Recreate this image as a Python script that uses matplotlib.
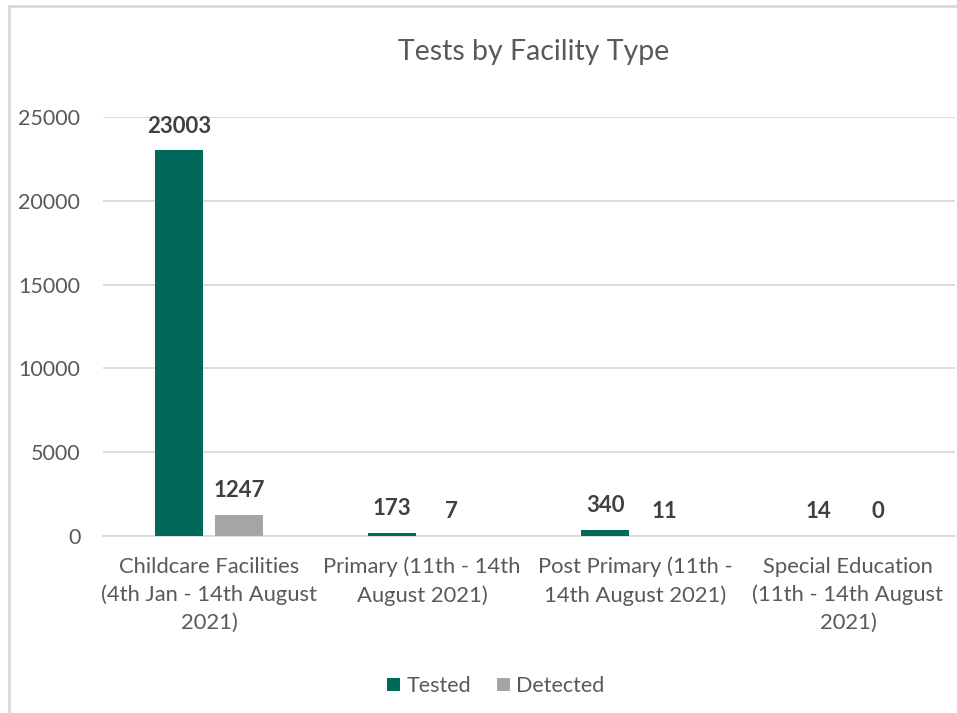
import numpy as np
import matplotlib.pyplot as plt
from matplotlib.patches import Rectangle

plt.rcParams['font.family'] = ['Lato', 'DejaVu Sans']

categories = ["Childcare Facilities\n(4th Jan - 14th August\n2021)",
              "Primary (11th - 14th\nAugust 2021)",
              "Post Primary (11th -\n14th August 2021)",
              "Special Education\n(11th - 14th August\n2021)"]
tested = [23003, 173, 340, 14]
detected = [1247, 7, 11, 0]
yticks = [0, 5000, 10000, 15000, 20000, 25000]

green = '#00695A'
grey = '#A5A5A5'
W, H = 957, 713

fig = plt.figure(figsize=(W / 100, H / 100), dpi=100)
ax = fig.add_axes([102.5 / W, 1 - 536 / H, 852 / W, 419 / H])

x = np.arange(len(categories))
bw = 0.225
off = 0.14
b1 = ax.bar(x - off, tested, bw, color=green, label='Tested', zorder=3)
b2 = ax.bar(x + off, detected, bw, color=grey, label='Detected', zorder=3)

# value labels above each bar
for bars, vals in ((b1, tested), (b2, detected)):
    for r, v in zip(bars, vals):
        ax.annotate(str(v), (r.get_x() + r.get_width() / 2, r.get_height()),
                    xytext=(0, 17.5), textcoords='offset points',
                    ha='center', va='center', fontsize=16,
                    fontweight='bold', color='#404040')

ax.set_xlim(-0.5, 3.5)
ax.set_ylim(0, 25000)
ax.set_yticks(yticks)
ax.set_yticklabels([str(t) for t in yticks], fontsize=15.5, color='#595959')
ax.set_xticks(x)
ax.set_xticklabels(categories, fontsize=15.8, color='#595959', linespacing=1.47)
ax.tick_params(axis='both', length=0)
ax.tick_params(axis='y', pad=16)
ax.tick_params(axis='x', pad=15)
ax.grid(axis='y', color='#D9D9D9', linewidth=1.3, zorder=0)
for s in ['top', 'right', 'left']:
    ax.spines[s].set_visible(False)
ax.spines['bottom'].set_color('#D9D9D9')
ax.spines['bottom'].set_linewidth(1.3)

fig.text(534 / W, 1 - 52 / H, 'Tests by Facility Type', ha='center', va='center',
         fontsize=20.5, color='#595959')

leg = fig.legend(handles=[b1, b2], loc='center', bbox_to_anchor=(496 / W, 1 - 686 / H),
                 ncol=2, frameon=False, fontsize=15.5, handlelength=0.6,
                 handleheight=0.6, handletextpad=0.3, columnspacing=1.2)
for t in leg.get_texts():
    t.set_color('#595959')

fig.patches.append(Rectangle((9 / W, -0.1), 1.2, 1.1 - 6 / H, transform=fig.transFigure,
                             fill=False, edgecolor='#D9D9D9', linewidth=2))

fig.savefig('out.png', dpi=100)
